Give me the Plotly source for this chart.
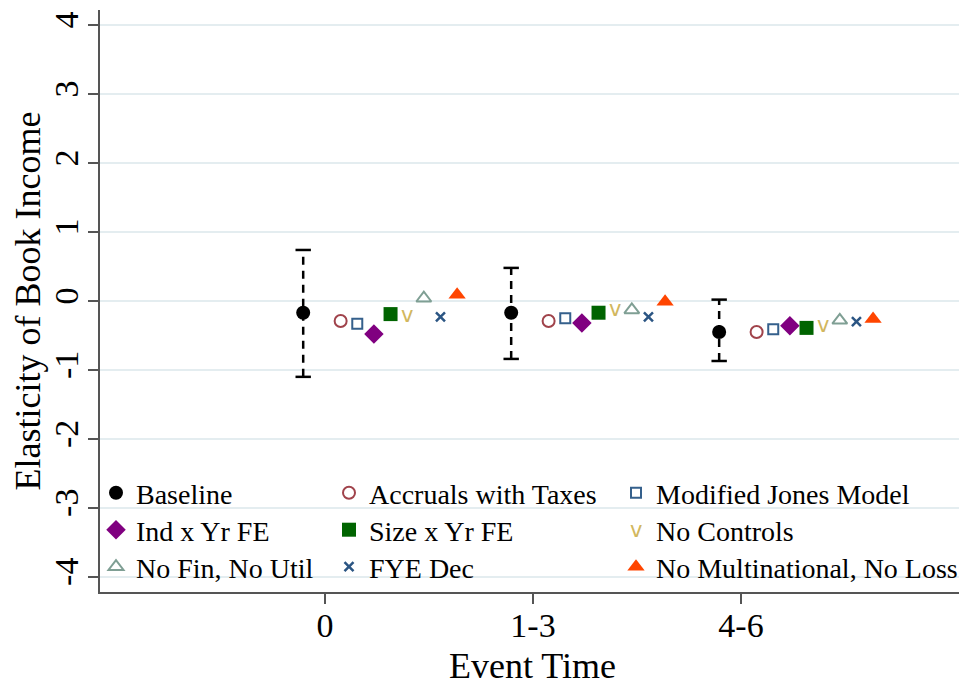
import plotly.graph_objects as go

# ---------------- data ----------------
categories = ["0", "1-3", "4-6"]
cat_pos = [0, 1, 2]
y_ticks = [-4, -3, -2, -1, 0, 1, 2, 3, 4]
y_tick_text = ["-4", "-3", "-2", "-1", "0", "1", "2", "3", "4"]

baseline = [-0.17, -0.17, -0.45]
baseline_lo = [-1.10, -0.84, -0.87]
baseline_hi = [0.74, 0.48, 0.02]

accruals_taxes = [-0.29, -0.29, -0.45]
modified_jones = [-0.33, -0.25, -0.41]
ind_yr_fe = [-0.48, -0.32, -0.36]
size_yr_fe = [-0.19, -0.17, -0.39]
no_controls = [-0.23, -0.145, -0.38]
no_fin_no_util = [0.04, -0.13, -0.28]
fye_dec = [-0.23, -0.23, -0.30]
no_multi_no_loss = [0.09, -0.01, -0.26]

# horizontal offsets of each estimate inside a group
baseline_offset = -0.105
alt_offsets = [0.075 + 0.08 * k for k in range(8)]

FONT = "Liberation Serif"
OFF = 8                                   # page body margin
W, H = 967 - OFF, 688 - OFF
PL, PR, PT, PB = 100 - OFF, 965 - OFF, 10 - OFF, 592 - OFF   # plot area in figure pixels
PW, PH = PR - PL, PB - PT

fig = go.Figure()

def xs(off):
    return [p + off for p in cat_pos]

# confidence interval (dashed) for baseline
ci_x, ci_y = [], []
for p, lo, hi in zip(cat_pos, baseline_lo, baseline_hi):
    ci_x += [p + baseline_offset, p + baseline_offset, None]
    ci_y += [lo, hi, None]
fig.add_trace(go.Scatter(x=ci_x, y=ci_y, mode="lines",
                         line=dict(color="black", width=2.5, dash="8px,6px"),
                         showlegend=False, hoverinfo="skip"))
cap_x, cap_y = [], []
for p, lo, hi in zip(cat_pos, baseline_lo, baseline_hi):
    cap_x += [p + baseline_offset, p + baseline_offset]
    cap_y += [lo, hi]
fig.add_trace(go.Scatter(x=cap_x, y=cap_y, mode="markers",
                         marker=dict(symbol="line-ew-open", size=11, color="black",
                                     line=dict(color="black", width=2.5)),
                         showlegend=False, hoverinfo="skip"))

V_COLOR = "#d2b75e"
V_SIZE = 21

# legend slot (column, row) for each series, reference pixel centres of markers
cols_px = [116 - OFF, 349 - OFF, 636 - OFF]
rows_px = [493 - OFF, 530 - OFF, 567 - OFF]

series = [
    ("Baseline", baseline, baseline_offset, dict(symbol="circle", size=14, color="black"), (0, 0)),
    ("Accruals with Taxes", accruals_taxes, alt_offsets[0],
     dict(symbol="circle-open", size=12, color="#a0434b", line=dict(width=2, color="#a0434b")), (1, 0)),
    ("Modified Jones Model", modified_jones, alt_offsets[1],
     dict(symbol="square-open", size=10, color="#35608c", line=dict(width=2, color="#35608c")), (2, 0)),
    ("Ind x Yr FE", ind_yr_fe, alt_offsets[2], dict(symbol="diamond", size=15, color="#800080"), (0, 1)),
    ("Size x Yr FE", size_yr_fe, alt_offsets[3], dict(symbol="square", size=14, color="#006400"), (1, 1)),
    ("No Controls", no_controls, alt_offsets[4], None, (2, 1)),
    ("No Fin, No Util", no_fin_no_util, alt_offsets[5],
     dict(symbol="triangle-up-open", size=13, color="#7f9f94", line=dict(width=2, color="#7f9f94")), (0, 2)),
    ("FYE Dec", fye_dec, alt_offsets[6],
     dict(symbol="x-thin-open", size=9, color="#2b5583", line=dict(width=2.5, color="#2b5583")), (1, 2)),
    ("No Multinational, No Loss", no_multi_no_loss, alt_offsets[7],
     dict(symbol="triangle-up", size=15, color="#ff4500"), (2, 2)),
]

legend_layouts = {}
for i, (name, vals, off, mk, (c, r)) in enumerate(series):
    lg = "legend" if i == 0 else f"legend{i + 1}"
    mx, my = cols_px[c], rows_px[r]
    legend_layouts[lg] = dict(
        x=(mx - 20 - PL) / PW, y=(PB - my) / PH, xanchor="left", yanchor="middle",
        xref="paper", yref="paper", bgcolor="rgba(0,0,0,0)", borderwidth=0,
        font=dict(family=FONT, size=28, color="black"))
    if mk is None:
        # "v" shaped marker drawn as text
        fig.add_trace(go.Scatter(x=xs(off), y=vals, mode="text", text=["v"] * len(vals),
                                 textposition="middle center",
                                 textfont=dict(family="DejaVu Sans", size=V_SIZE, color=V_COLOR),
                                 showlegend=False))
        fig.add_trace(go.Scatter(x=[None], y=[None], mode="markers", name=name,
                                 marker=dict(symbol="circle", size=10, color="rgba(0,0,0,0)"),
                                 legend=lg))
        fig.add_annotation(text="v", xref="paper", yref="paper",
                           x=(mx - PL) / PW, y=(PB - my) / PH,
                           showarrow=False,
                           font=dict(family="DejaVu Sans", size=V_SIZE, color=V_COLOR),
                           xanchor="center", yanchor="middle")
    else:
        fig.add_trace(go.Scatter(x=xs(off), y=vals, mode="markers", name=name,
                                 marker=mk, legend=lg))

# x-axis title placed precisely under the axis
fig.add_annotation(text="Event Time", xref="paper", yref="paper",
                   x=0.5, y=(PB - (666 - OFF)) / PH, showarrow=False,
                   font=dict(family=FONT, size=36, color="black"),
                   xanchor="center", yanchor="middle")

fig.update_layout(
    width=W, height=H,
    margin=dict(l=PL, r=W - PR, t=PT, b=H - PB),
    paper_bgcolor="white", plot_bgcolor="white",
    font=dict(family=FONT, color="black"),
    showlegend=True,
    xaxis=dict(range=[-1.082, 3.077], tickvals=cat_pos, ticktext=categories, automargin=False,
               showgrid=False, zeroline=False, showline=True, linecolor="#555555", linewidth=2,
               ticks="outside", ticklen=10, tickwidth=2, tickcolor="#555555",
               tickfont=dict(family=FONT, size=34), ticklabelstandoff=-8),
    yaxis=dict(range=[-4.22, 4.22], tickvals=y_ticks, ticktext=y_tick_text, automargin=False,
               showgrid=True, gridcolor="#e4edf0", gridwidth=2, zeroline=False,
               showline=True, linecolor="#555555", linewidth=2,
               ticks="outside", ticklen=10, tickwidth=2, tickcolor="#555555",
               tickangle=-90, tickfont=dict(family=FONT, size=34), ticklabelstandoff=-4,
               title=dict(text="Elasticity of Book Income", font=dict(family=FONT, size=36), standoff=0)),
    **legend_layouts,
)

fig.write_html("out.html")
